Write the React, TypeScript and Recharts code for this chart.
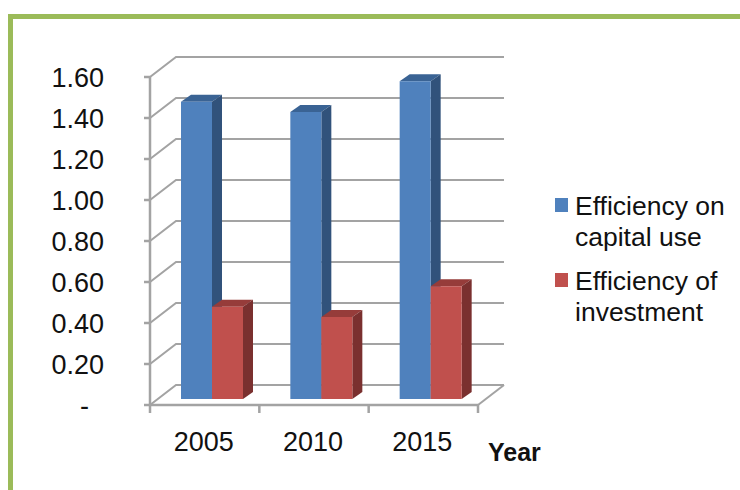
import React from 'react';
import { BarChart, Bar, XAxis, YAxis, CartesianGrid, Legend } from 'recharts';

const years = ['2005', '2010', '2015'];
const capitalUse = [1.45, 1.4, 1.55];
const investment = [0.45, 0.4, 0.55];
const yTicks = [0, 0.2, 0.4, 0.6, 0.8, 1.0, 1.2, 1.4, 1.6];

const rows = years.map((year, i) => ({
  year,
  capital: capitalUse[i],
  invest: investment[i],
}));

const FONT = '"Liberation Sans", Arial, sans-serif';
const GRID = '#a3a3a3';
const PLOT_W = 328;
const BAND = PLOT_W / years.length;

// fake 3d: bars sit part way into the floor
const barShift = { x: 7, y: -6 };
const barDepth = { x: 10, y: -7 };
const wallDepth = { x: 26, y: -20 };

const make3dBar = (front: string, top: string, side: string) => (props: any) => {
  const x = props.x + barShift.x;
  const y = props.y + barShift.y;
  const { width: w, height: h } = props;
  const d = barDepth;
  return (
    <g>
      <polygon points={`${x},${y} ${x + d.x},${y + d.y} ${x + w + d.x},${y + d.y} ${x + w},${y}`} fill={top} />
      <polygon points={`${x + w},${y} ${x + w + d.x},${y + d.y} ${x + w + d.x},${y + h + d.y} ${x + w},${y + h}`} fill={side} />
      <rect x={x} y={y} width={w} height={h} fill={front} />
    </g>
  );
};

const GridLine = (props: any) => {
  const { x1, x2, y1 } = props;
  const w = wallDepth;
  const isFloor = props.index === 0;
  return (
    <g fill="none" stroke={GRID} strokeWidth={2}>
      <path d={`M${x1},${y1} L${x1 + w.x},${y1 + w.y} L${x2 + w.x},${y1 + w.y}`} />
      {isFloor && <path d={`M${x2},${y1} L${x2 + w.x},${y1 + w.y}`} />}
    </g>
  );
};

const YearTick = (props: any) => {
  const { x, y, payload, index } = props;
  const left = x - BAND / 2;
  return (
    <g>
      <line x1={left} x2={left} y1={y - 9} y2={y} stroke={GRID} strokeWidth={2.5} />
      {index === years.length - 1 && (
        <line x1={left + BAND} x2={left + BAND} y1={y - 9} y2={y} stroke={GRID} strokeWidth={2.5} />
      )}
      <text x={x - 1} y={y + 38} textAnchor="middle" fontSize={27} fontFamily={FONT} fill="#111">
        {payload.value}
      </text>
    </g>
  );
};

const LegendBox = ({ payload }: any) => (
  <div style={{ fontFamily: FONT, fontSize: 26.5, lineHeight: '31px', color: '#111' }}>
    {payload.map((item: any, i: number) => (
      <div key={item.value} style={{ position: 'relative', paddingLeft: 20, marginBottom: i === 0 ? 13 : 0 }}>
        <span
          style={{
            position: 'absolute',
            left: 0,
            top: 7,
            width: 13,
            height: 14,
            background: item.color,
          }}
        />
        {item.value}
      </div>
    ))}
  </div>
);

const App: React.FC = () => (
  <div style={{ position: 'absolute', left: 0, top: 0, width: 740, height: 490, overflow: 'hidden', background: '#fff' }}>
    <div
      style={{
        position: 'absolute',
        left: 8,
        top: 14,
        width: 740,
        height: 490,
        borderLeft: '5px solid #9BBB59',
        borderTop: '5px solid #9BBB59',
      }}
    />
    <BarChart
      width={740}
      height={490}
      data={rows}
      margin={{ top: 77, right: 262, bottom: 25, left: 20 }}
      barSize={31}
      barGap={0}
      style={{ position: 'absolute', left: 0, top: 0 }}
    >
      <CartesianGrid vertical={false} horizontal={(p: any) => <GridLine {...p} />} />
      <XAxis
        dataKey="year"
        height={60}
        stroke={GRID}
        strokeWidth={2.5}
        tickLine={false}
        interval={0}
        tick={(p: any) => <YearTick {...p} />}
        label={{
          value: 'Year',
          position: 'right',
          dx: 5,
          dy: 17,
          fontSize: 25,
          fontWeight: 700,
          fontFamily: FONT,
          fill: '#111',
        }}
      />
      <YAxis
        width={130}
        domain={[0, 1.6]}
        ticks={yTicks}
        interval={0}
        stroke={GRID}
        strokeWidth={2.5}
        tickSize={6}
        tickMargin={40}
        tick={{ fontSize: 27, fontFamily: FONT, fill: '#111' }}
        tickFormatter={(v: number) => (v === 0 ? '-\u00a0\u00a0' : v.toFixed(2))}
      />
      <Legend
        layout="vertical"
        align="center"
        verticalAlign="middle"
        itemSorter={null}
        content={<LegendBox />}
        wrapperStyle={{ position: 'absolute', left: 555, top: 191, width: 176 }}
      />
      <Bar
        dataKey="capital"
        name="Efficiency on capital use"
        fill="#4F81BD"
        isAnimationActive={false}
        shape={make3dBar('#4F81BD', '#3A6394', '#31527B')}
      />
      <Bar
        dataKey="invest"
        name="Efficiency of investment"
        fill="#C0504D"
        isAnimationActive={false}
        shape={make3dBar('#C0504D', '#963C3A', '#7A302F')}
      />
    </BarChart>
  </div>
);

export default App;
